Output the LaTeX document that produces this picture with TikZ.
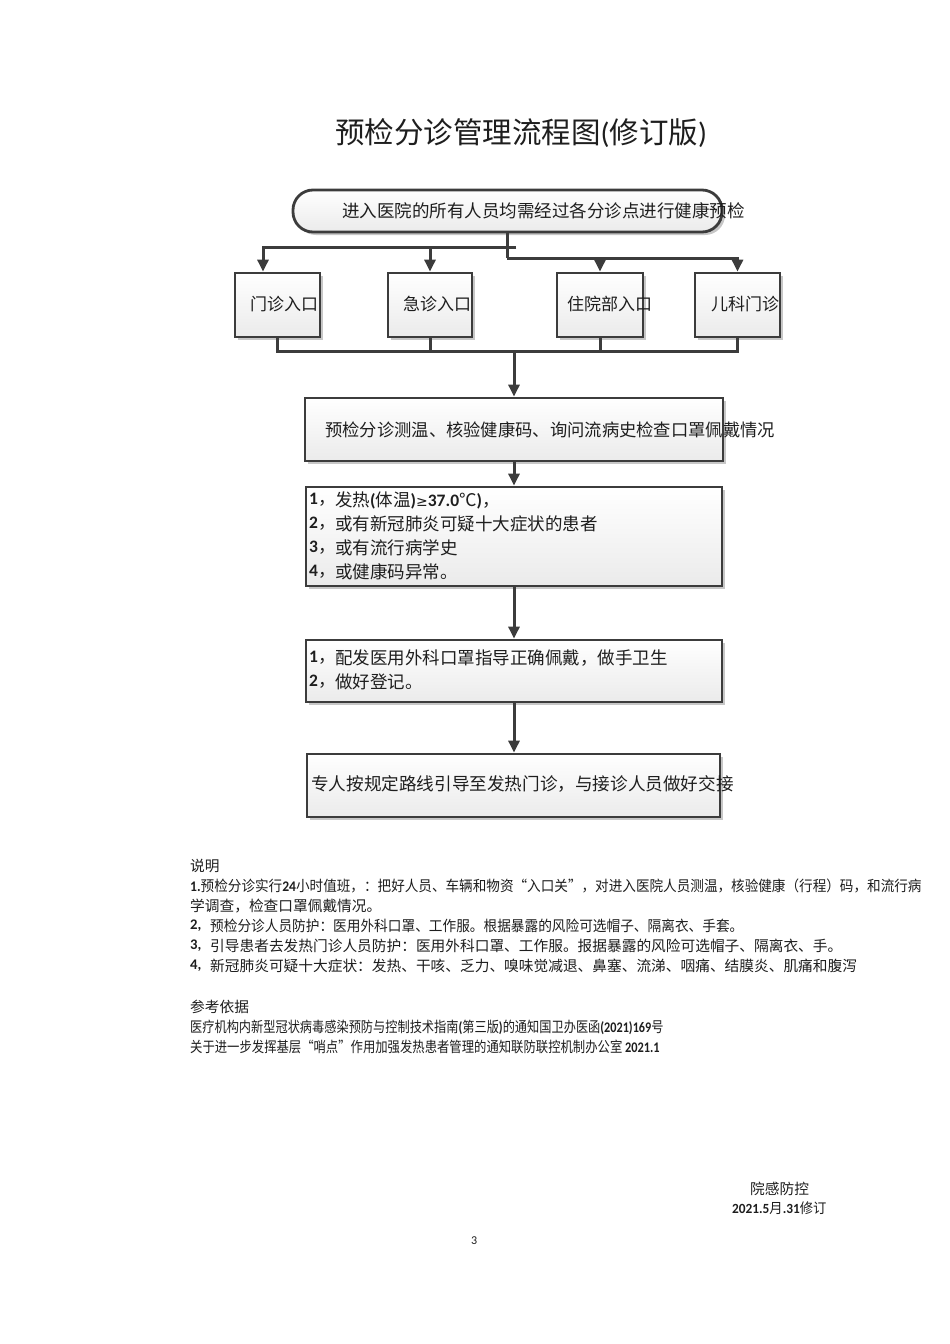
\documentclass[tikz,border=0pt]{standalone}
\usepackage{fontspec}
\setmainfont{Noto Sans CJK SC}
\newfontfamily\lat{Carlito}
\newfontfamily\dv{DejaVu Sans}
\usetikzlibrary{arrows.meta,shadows}
\definecolor{lc}{HTML}{3C3C3C}
\definecolor{txt}{HTML}{1E1E1E}
\tikzset{
 box/.style={draw=lc, line width=2.8pt, top color=white, bottom color=gray!16, inner sep=0pt,
   drop shadow={shadow xshift=3pt, shadow yshift=-3pt, fill=black, opacity=0.22}},
 ln/.style={draw=lc, line width=3pt},
 arr/.style={-{Triangle[width=11pt,length=12pt]}},
 tx/.style={anchor=west, inner sep=0pt, text=txt, font=\fontsize{17.5}{20}\selectfont},
 sm/.style={anchor=west, inner sep=0pt, text=txt, font=\fontsize{14.7}{17}\selectfont},
 ttl/.style={anchor=west, inner sep=0pt, text=txt, font=\fontsize{29.5}{34}\selectfont},
}
\begin{document}
\begin{tikzpicture}[x=1pt,y=-1pt]
\fill[white] (0,0) rectangle (950,1344);
\useasboundingbox (0,0) rectangle (950,1344);

% title
\node[ttl] (ti1) at (335,133) {预检分诊管理流程图{\lat(}修订版{\lat)}};

% boxes
\node[box, rounded corners=20pt, minimum width=429pt, minimum height=42pt] (top) at (507.5,211) {};
\node[box, minimum width=85pt, minimum height=64pt] (b1) at (277.5,305) {};
\node[box, minimum width=84pt, minimum height=64pt] (b2) at (430,305) {};
\node[box, minimum width=86pt, minimum height=64pt] (b3) at (600,305) {};
\node[box, minimum width=85pt, minimum height=64pt] (b4) at (737.5,305) {};
\node[box, minimum width=418pt, minimum height=63pt] (pre) at (514,429.5) {};
\node[box, minimum width=416pt, minimum height=99pt] (cond) at (514,536.5) {};
\node[box, minimum width=416pt, minimum height=62pt] (act) at (514,671) {};
\node[box, minimum width=413pt, minimum height=63pt] (fin) at (513.5,785.5) {};

% connectors
\coordinate (j0) at (516,247);
\coordinate (j1) at (507,247);
\coordinate (j2) at (507,258);
\draw[ln] (top.south -| j1) -- (j2);
\draw[ln,arr] (j0) -| ([xshift=-14.5pt]b1.north);
\draw[ln,arr] (j0) -| (b2.north);
\draw[ln,arr] (j2) -| (b3.north);
\draw[ln,arr] (j2) -| (b4.north);
\coordinate (m) at (514,351);
\draw[ln] (b1.south) |- (m);
\draw[ln] (b2.south) |- (m);
\draw[ln] (b3.south) |- (m);
\draw[ln] (b4.south) |- (m);
\draw[ln,arr] (m) -- (pre.north);
\draw[ln,arr] (pre.south) -- (cond.north);
\draw[ln,arr] (cond.south) -- (act.north);
\draw[ln,arr] (act.south) -- (act.south |- fin.north);

% box texts
\node[tx] (t0) at (342,211) {进入医院的所有人员均需经过各分诊点进行健康预检};
\node[tx, font=\fontsize{17}{20}\selectfont] (tb1) at (250,304) {门诊入口};
\node[tx, font=\fontsize{17}{20}\selectfont] (tb2) at (403,304) {急诊入口};
\node[tx, font=\fontsize{17}{20}\selectfont] (tb3) at (567,304) {住院部入口};
\node[tx, font=\fontsize{17}{20}\selectfont] (tb4) at (711,304) {儿科门诊};
\node[tx, font=\fontsize{17.3}{20}\selectfont] (tp) at (325,430) {预检分诊测温、核验健康码、询问流病史检查口罩佩戴情况};

\node[tx] (c1n) at (309,500) {{\lat\bfseries 1}，};
\node[tx] (c1) at (335,500) {发热{\lat\bfseries(}体温{\lat\bfseries)}{\dv\fontsize{14}{17}\selectfont ≥}{\lat\bfseries 37.0}℃{\lat\bfseries)}，};
\node[tx] (c2n) at (309,524) {{\lat\bfseries 2}，};
\node[tx] (c2) at (335,524) {或有新冠肺炎可疑十大症状的患者};
\node[tx] (c3n) at (309,548) {{\lat\bfseries 3}，};
\node[tx] (c3) at (335,548) {或有流行病学史};
\node[tx] (c4n) at (309,572) {{\lat\bfseries 4}，};
\node[tx] (c4) at (335,572) {或健康码异常。};

\node[tx] (a1n) at (309,658) {{\lat\bfseries 1}，};
\node[tx] (a1) at (335,658) {配发医用外科口罩指导正确佩戴，做手卫生};
\node[tx] (a2n) at (309,682) {{\lat\bfseries 2}，};
\node[tx] (a2) at (335,682) {做好登记。};

\node[tx, font=\fontsize{17.6}{20}\selectfont] (tf) at (311,784) {专人按规定路线引导至发热门诊，与接诊人员做好交接};

% notes
\node[sm] (n0) at (190,866) {说明};
\node[sm, xscale=0.925] (n1) at (190,886) {{\lat\bfseries 1.}预检分诊实行{\lat\bfseries 24}小时值班，：把好人员、车辆和物资“入口关”，对进入医院人员测温，核验健康（行程）码，和流行病};
\node[sm] (n1d) at (190,906) {学调查，检查口罩佩戴情况。};
\node[sm] (n2n) at (190,926) {{\lat\bfseries 2,}};
\node[sm, xscale=0.93] (n2) at (210,926) {预检分诊人员防护：医用外科口罩、工作服。根据暴露的风险可选帽子、隔离衣、手套。};
\node[sm] (n3n) at (190,946) {{\lat\bfseries 3,}};
\node[sm] (n3) at (210,946) {引导患者去发热门诊人员防护：医用外科口罩、工作服。报据暴露的风险可选帽子、隔离衣、手。};
\node[sm] (n4n) at (190,966) {{\lat\bfseries 4,}};
\node[sm] (n4) at (210,966) {新冠肺炎可疑十大症状：发热、干咳、乏力、嗅味觉减退、鼻塞、流涕、咽痛、结膜炎、肌痛和腹泻};

% references
\node[sm] (r0) at (190,1007) {参考依据};
\node[sm, xscale=0.83] (r1) at (190,1027) {医疗机构内新型冠状病毒感染预防与控制技术指南{\lat\bfseries(}第三版{\lat\bfseries)}的通知国卫办医函{\lat\bfseries(2021)169}号};
\node[sm, xscale=0.84] (r2) at (190,1047) {关于进一步发挥基层“哨点”作用加强发热患者管理的通知联防联控机制办公室 {\lat\bfseries 2021.1}};

% signature
\node[sm] (s1) at (750,1189) {院感防控};
\node[sm, font=\fontsize{14}{17}\selectfont, xscale=0.95] (s2) at (732,1208) {{\lat\bfseries 2021.5}月{\lat\bfseries .31}修订};
\node[sm, font=\lat\fontsize{12}{14}\selectfont] (pg) at (471,1241) {3};
\end{tikzpicture}
\end{document}
